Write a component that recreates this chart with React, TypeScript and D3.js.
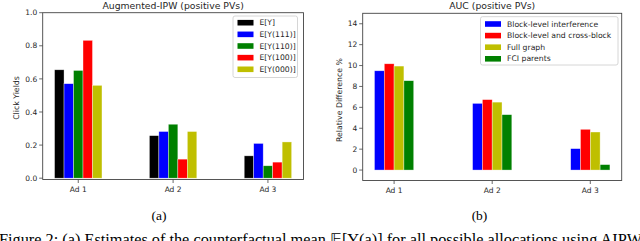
import React from "react";
import * as d3 from "d3";

const adLabels = ["Ad 1", "Ad 2", "Ad 3"];

const leftSeries = ["E[Y]", "E[Y(111)]", "E[Y(110)]", "E[Y(100)]", "E[Y(000)]"];
const leftColors = ["#000000", "#0000ff", "#008000", "#ff0000", "#bfbf00"];
const leftEY = [0.655, 0.257, 0.135];
const leftEY111 = [0.571, 0.282, 0.21];
const leftEY110 = [0.651, 0.326, 0.075];
const leftEY100 = [0.833, 0.115, 0.097];
const leftEY000 = [0.561, 0.282, 0.219];
const leftValues = [leftEY, leftEY111, leftEY110, leftEY100, leftEY000];
const leftTicks = [0, 0.2, 0.4, 0.6, 0.8, 1.0];

const rightSeries = ["Block-level interference", "Block-level and cross-block", "Full graph", "FCI parents"];
const rightColors = ["#0000ff", "#ff0000", "#bfbf00", "#008000"];
const rightBlock = [9.5, 6.38, 2.05];
const rightCross = [10.17, 6.74, 3.9];
const rightFull = [9.95, 6.5, 3.64];
const rightFCI = [8.55, 5.3, 0.52];
const rightValues = [rightBlock, rightCross, rightFull, rightFCI];
const rightTicks = [0, 2, 4, 6, 8, 10, 12, 14];

const FONT = "DejaVu Sans, sans-serif";
const SERIF = "Liberation Serif, Times New Roman, serif";
const SPINE = "#444";
const TXT = "#262626";

type PanelProps = {
  x0: number; x1: number; y0: number; y1: number;
  xDomain: [number, number]; yDomain: [number, number];
  values: number[][]; colors: string[]; series: string[];
  ticks: number[]; tickFmt: (v: number) => string;
  title: string; ylabel: string; ylabelX: number; ylabelY: number;
  legend: { x: number; y: number; w: number; h: number; firstY: number; step: number };
};

function Panel(p: PanelProps) {
  const x = d3.scaleLinear().domain(p.xDomain).range([p.x0, p.x1]);
  const y = d3.scaleLinear().domain(p.yDomain).range([p.y1, p.y0]);
  const n = p.values.length;
  const bw = 0.1;
  return (
    <g>
      {p.values.map((vals, si) =>
        vals.map((v, ci) => {
          const cx = ci + (si - (n - 1) / 2) * bw;
          const xl = x(cx - bw / 2);
          const xr = x(cx + bw / 2);
          return (
            <rect key={`${si}-${ci}`} x={xl} y={y(v)} width={xr - xl} height={y(0) - y(v)}
              fill={p.colors[si]} stroke="#ffffff" strokeOpacity={0.6} strokeWidth={0.6} />
          );
        })
      )}
      <rect x={p.x0} y={p.y0} width={p.x1 - p.x0} height={p.y1 - p.y0} fill="none" stroke={SPINE} strokeWidth={0.9} />
      {p.ticks.map((t) => (
        <g key={t}>
          <line x1={p.x0 - 3.5} x2={p.x0} y1={y(t)} y2={y(t)} stroke={SPINE} strokeWidth={0.8} />
          <text x={p.x0 - 5.5} y={y(t)} dy="0.35em" textAnchor="end" fontSize={7.5} fontFamily={FONT} fill={TXT}>
            {p.tickFmt(t)}
          </text>
        </g>
      ))}
      {adLabels.map((a, i) => (
        <g key={a}>
          <line x1={x(i)} x2={x(i)} y1={p.y1} y2={p.y1 + 3.5} stroke={SPINE} strokeWidth={0.8} />
          <text x={x(i)} y={p.y1 + 12.5} textAnchor="middle" fontSize={7.5} fontFamily={FONT} fill={TXT}>{a}</text>
        </g>
      ))}
      <text x={(p.x0 + p.x1) / 2} y={p.y0 - 4} textAnchor="middle" fontSize={9.3} fontFamily={FONT} fill={TXT}>{p.title}</text>
      <text transform={`translate(${p.ylabelX},${p.ylabelY}) rotate(-90)`} textAnchor="middle" dy="0.35em"
        fontSize={7.8} fontFamily={FONT} fill={TXT}>{p.ylabel}</text>
      <rect x={p.legend.x} y={p.legend.y} width={p.legend.w} height={p.legend.h} rx={2}
        fill="#ffffff" fillOpacity={0.8} stroke="#cccccc" strokeWidth={0.8} />
      {p.series.map((s, i) => {
        const ly = p.legend.firstY + i * p.legend.step;
        return (
          <g key={s}>
            <rect x={p.legend.x + 4.5} y={ly - 2.8} width={16} height={5.6} fill={p.colors[i]} />
            <text x={p.legend.x + 26.5} y={ly} dy="0.35em" fontSize={7.7} fontFamily={FONT} fill={TXT}>{s}</text>
          </g>
        );
      })}
    </g>
  );
}

export default function App() {
  return (
    <svg width={640} height={241} style={{ position: "absolute", left: 0, top: 0, background: "#fff" }}>
      <rect width={640} height={241} fill="#ffffff" />
      <Panel x0={42.7} x1={303.5} y0={12.7} y1={179.5}
        xDomain={[-0.375, 2.375]} yDomain={[-0.008, 1.0]}
        values={leftValues} colors={leftColors} series={leftSeries}
        ticks={leftTicks} tickFmt={(v) => v.toFixed(1)}
        title="Augmented-IPW (positive PVs)" ylabel="Click Yields" ylabelX={16.7} ylabelY={98}
        legend={{ x: 233, y: 16, w: 64.5, h: 61.5, firstY: 22.7, step: 11.65 }} />
      <Panel x0={362.7} x1={621.7} y0={13.3} y1={180.5}
        xDomain={[-0.32, 2.32]} yDomain={[-1, 15]}
        values={rightValues} colors={rightColors} series={rightSeries}
        ticks={rightTicks} tickFmt={(v) => String(v)}
        title="AUC (positive PVs)" ylabel="Relative Difference %" ylabelX={339} ylabelY={100}
        legend={{ x: 480.5, y: 16.7, w: 137.5, h: 48.3, firstY: 24, step: 11.6 }} />
      <text x={159} y={220} textAnchor="middle" fontSize={13.5} fontFamily={SERIF} fill="#000">(a)</text>
      <text x={479.5} y={220} textAnchor="middle" fontSize={13.5} fontFamily={SERIF} fill="#000">(b)</text>
      <text x={-1} y={244.5} fontSize={16.3} fontFamily={SERIF} fill="#000">
        Figure 2: (a) Estimates of the counterfactual mean 𝔼[Y(a)] for all possible allocations using AIPW
      </text>
    </svg>
  );
}
